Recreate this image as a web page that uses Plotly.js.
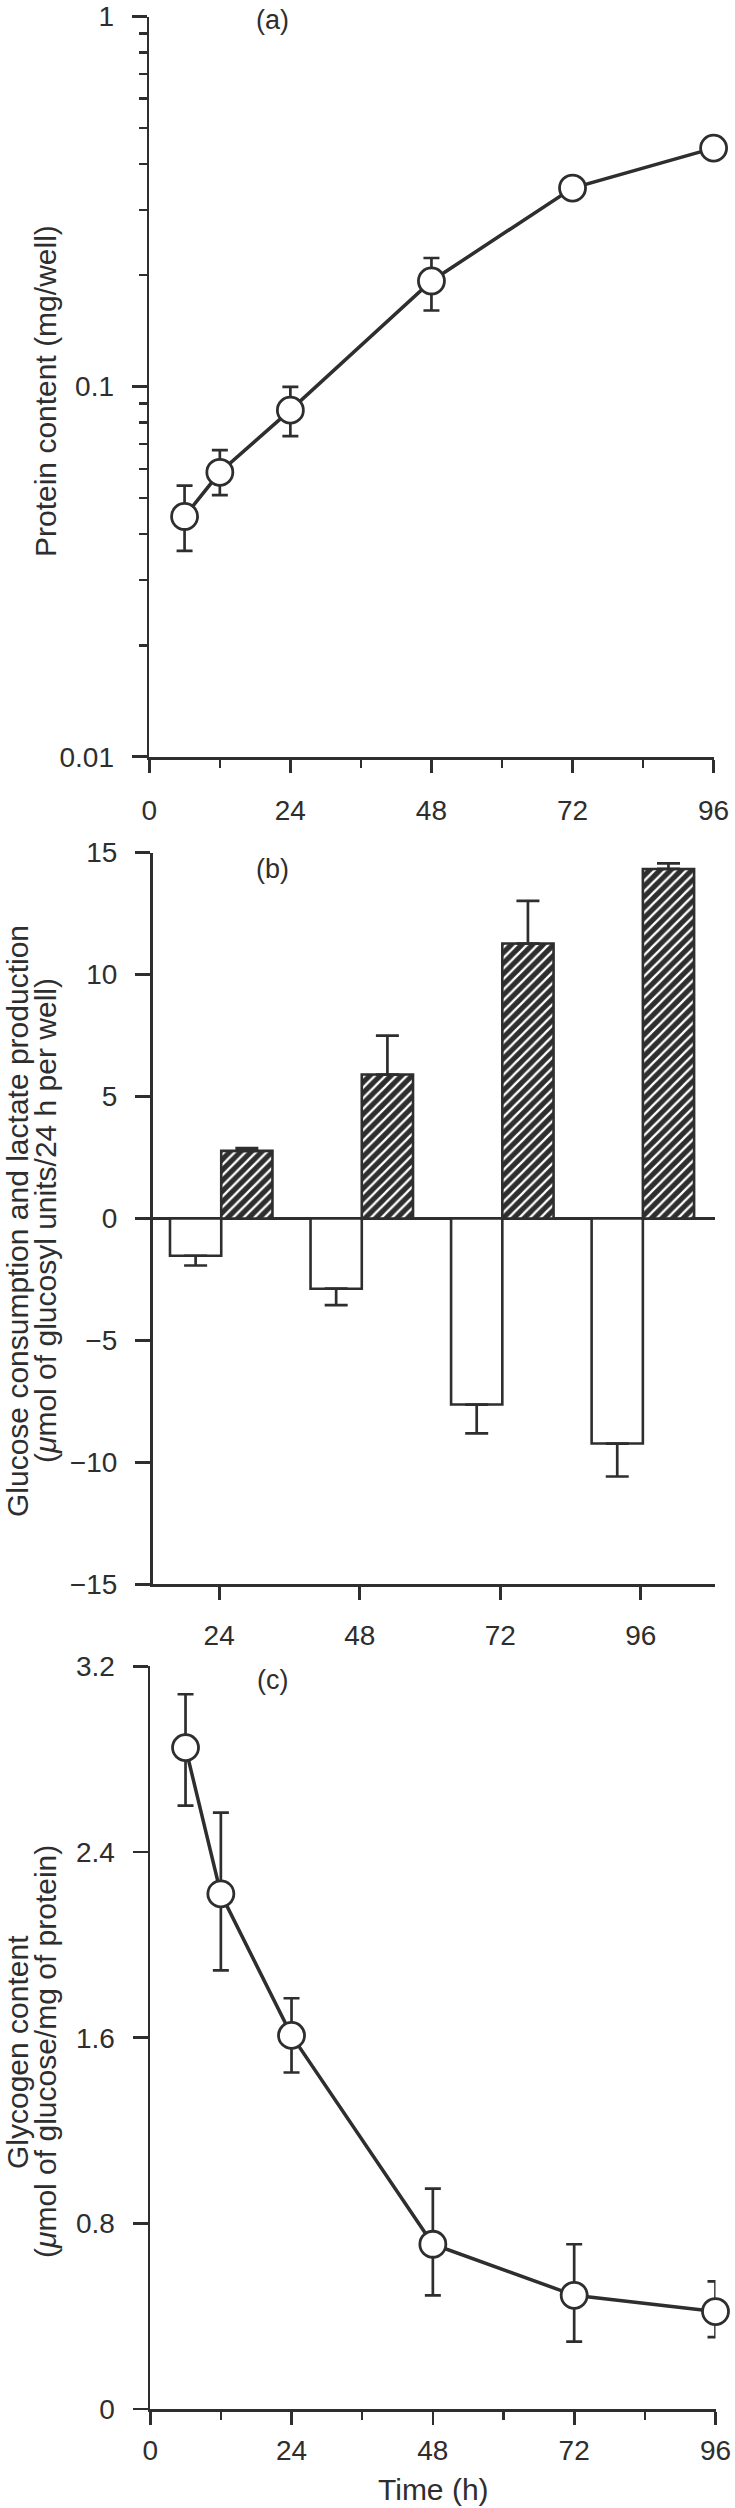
<!DOCTYPE html>
<html><head><meta charset="utf-8">
<script src="https://cdn.plot.ly/plotly-3.0.1.min.js"></script>
<style>html,body{margin:0;padding:0;background:#fff}</style>
</head><body>
<div id="chart" style="width:735px;height:2508px"></div>
<script>
// ---------- data ----------
// Panel (a): protein content (mg/well), log scale
const timeA = [6, 12, 24, 48, 72, 96];
const proteinA = [0.0446, 0.0587, 0.0864, 0.193, 0.344, 0.441];
const proteinErrPlus = [0.0094, 0.0087, 0.0134, 0.0296, null, null];
const proteinErrMinus = [0.0086, 0.0078, 0.0129, 0.0324, null, null];

// Panel (b): glucose consumption (open, negative) and lactate production (hatched)
const timeB = [24, 48, 72, 96];
const glucoseConsumption = [-1.53, -2.88, -7.63, -9.23];
const glucoseErr = [0.40, 0.67, 1.18, 1.35];
const lactateProduction = [2.77, 5.90, 11.27, 14.33];
const lactateErr = [0.11, 1.60, 1.75, 0.23];

// Panel (c): glycogen content
const timeC = [6, 12, 24, 48, 72, 96];
const glycogen = [2.85, 2.22, 1.61, 0.71, 0.49, 0.42];
const glycogenErrPlus = [0.23, 0.35, 0.16, 0.24, 0.22, 0.13];
const glycogenErrMinus = [0.25, 0.33, 0.16, 0.22, 0.20, 0.11];

// Ticks
const timeTicks = [0, 24, 48, 72, 96];
const timeMinorTicks = [12, 36, 60, 84];
const proteinTicks = [0.01, 0.1, 1];
const proteinTickText = ['0.01', '0.1', '1'];
const proteinMinorTicks = [0.02, 0.03, 0.04, 0.05, 0.06, 0.07, 0.08, 0.09,
                           0.2, 0.3, 0.4, 0.5, 0.6, 0.7, 0.8, 0.9];
const barTimeTicks = [24, 48, 72, 96];
const flowTicks = [-15, -10, -5, 0, 5, 10, 15];
const glycogenTicks = [0, 0.8, 1.6, 2.4, 3.2];
const glycogenTickText = ['0', '0.8', '1.6', '2.4', '3.2'];

// ---------- styles ----------
const INK = '#2e2e2e';
const FONT = 'Liberation Sans, Arial, Helvetica, sans-serif';
const W = 735, H = 2508;
const px = v => v / W;
const py = v => 1 - v / H;

const axisBase = {
  showline: true, linecolor: INK, linewidth: 2.7,
  ticks: 'outside', tickcolor: INK, tickwidth: 2.7,
  showgrid: false, zeroline: false, fixedrange: true,
  tickfont: {family: FONT, size: 28, color: INK},
  tickmode: 'array', ticklabeloverflow: 'allow'
};
const minorX = {tickvals: timeMinorTicks, ticks: 'outside', ticklen: 8, tickwidth: 2.5, tickcolor: INK, showgrid: false};

const scatterStyle = {
  type: 'scatter', mode: 'lines+markers', cliponaxis: false,
  line: {color: INK, width: 3.5},
  marker: {symbol: 'circle', size: 26, color: 'white', line: {color: INK, width: 2.8}},
  hoverinfo: 'x+y'
};

const traces = [
  Object.assign({}, scatterStyle, {
    x: timeA, y: proteinA, xaxis: 'x', yaxis: 'y',
    error_y: {type: 'data', visible: true, symmetric: false, array: proteinErrPlus, arrayminus: proteinErrMinus,
              color: INK, thickness: 2.7, width: 8}
  }),
  {
    type: 'bar', name: 'Glucose consumption', x: timeB, y: glucoseConsumption,
    xaxis: 'x2', yaxis: 'y2', width: 8.75, offset: -8.4, cliponaxis: false,
    marker: {color: 'white', line: {color: INK, width: 2.6}},
    error_y: {type: 'data', visible: true, symmetric: false, arrayminus: glucoseErr,
              color: INK, thickness: 2.7, width: 11.5}
  },
  {
    type: 'bar', name: 'Lactate production', x: timeB, y: lactateProduction,
    xaxis: 'x2', yaxis: 'y2', width: 8.75, offset: 0.35, cliponaxis: false,
    marker: {color: INK, line: {color: INK, width: 2.6},
             pattern: {shape: '/', fillmode: 'replace', bgcolor: INK, fgcolor: '#ffffff', size: 7.5, solidity: 0.3}},
    error_y: {type: 'data', visible: true, symmetric: false, array: lactateErr,
              color: INK, thickness: 2.7, width: 11.5}
  },
  Object.assign({}, scatterStyle, {
    x: timeC, y: glycogen, xaxis: 'x3', yaxis: 'y3',
    error_y: {type: 'data', visible: true, symmetric: false, array: glycogenErrPlus, arrayminus: glycogenErrMinus,
              color: INK, thickness: 2.7, width: 8}
  })
];

const layout = {
  width: W, height: H,
  margin: {l: 0, r: 0, t: 0, b: 0, pad: 0},
  paper_bgcolor: 'white', plot_bgcolor: 'white',
  showlegend: false,
  font: {family: FONT, color: INK, size: 28},
  barmode: 'overlay',
  xaxis: Object.assign({}, axisBase, {
    domain: [px(149.3), px(713.6)], range: [0, 96], anchor: 'y',
    tickvals: timeTicks, ticklen: 13, ticklabelstandoff: 14, minor: minorX
  }),
  yaxis: Object.assign({}, axisBase, {
    type: 'log', domain: [py(756.8), py(16.5)], range: [-2, 0], anchor: 'x',
    tickvals: proteinTicks, ticktext: proteinTickText, ticklen: 15, ticklabelstandoff: 12,
    minor: {tickvals: proteinMinorTicks, ticks: 'outside', ticklen: 8, tickwidth: 2.5, tickcolor: INK, showgrid: false}
  }),
  xaxis2: Object.assign({}, axisBase, {
    domain: [px(152.6), px(714.6)], range: [12.63, 108.6], anchor: 'y2',
    tickvals: barTimeTicks, ticklen: 13, ticklabelstandoff: 11
  }),
  yaxis2: Object.assign({}, axisBase, {
    domain: [py(1584.3), py(852.6)], range: [-15, 15], anchor: 'x2',
    tickvals: flowTicks, ticklen: 15, ticklabelstandoff: 12,
    zeroline: true, zerolinecolor: INK, zerolinewidth: 2.6
  }),
  xaxis3: Object.assign({}, axisBase, {
    domain: [px(150.2), px(715.5)], range: [0, 96], anchor: 'y3',
    tickvals: timeTicks, ticklen: 13, ticklabelstandoff: 2, minor: minorX
  }),
  yaxis3: Object.assign({}, axisBase, {
    domain: [py(2409), py(1666.4)], range: [0, 3.2], anchor: 'x3',
    tickvals: glycogenTicks, ticktext: glycogenTickText, ticklen: 15, ticklabelstandoff: 12
  }),
  annotations: [
    {text: '(a)', x: px(272), y: py(20)},
    {text: '(b)', x: px(272), y: py(868.8)},
    {text: '(c)', x: px(272.5), y: py(1680)}
  ].map(a => Object.assign({xref: 'paper', yref: 'paper', showarrow: false, xanchor: 'center', yanchor: 'middle',
                            font: {family: FONT, size: 27, color: INK}}, a)).concat([
    {text: 'Protein content (mg/well)', x: px(45), y: py(391)},
    {text: 'Glucose consumption and lactate production', x: px(17), y: py(1221)},
    {text: '(<i>μ</i>mol of glucosyl units/24 h per well)', x: px(45), y: py(1221)},
    {text: 'Glycogen content', x: px(17), y: py(2052)},
    {text: '(<i>μ</i>mol of glucose/mg of protein)', x: px(45), y: py(2052)}
  ].map(a => Object.assign({xref: 'paper', yref: 'paper', showarrow: false, xanchor: 'center', yanchor: 'middle',
                            textangle: -90, font: {family: FONT, size: 30, color: INK}}, a))).concat([
    {text: 'Time (h)', x: px(433), y: py(2489), xref: 'paper', yref: 'paper', showarrow: false,
     xanchor: 'center', yanchor: 'middle', font: {family: FONT, size: 30, color: INK}}
  ])
};

Plotly.newPlot('chart', traces, layout, {displayModeBar: false, staticPlot: true});
</script>
</body></html>
